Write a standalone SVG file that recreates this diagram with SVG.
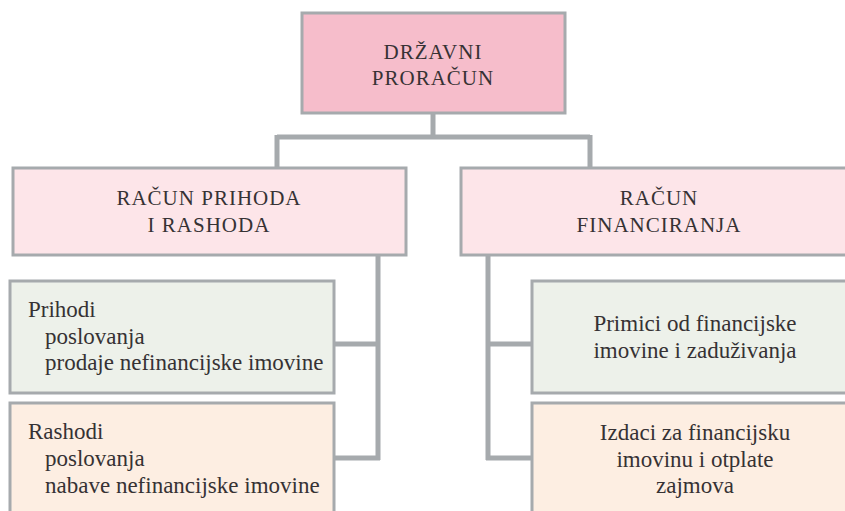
<svg xmlns="http://www.w3.org/2000/svg" width="845" height="511" viewBox="0 0 845 511">
<style>
.box{stroke:#a6aaad;stroke-width:3}
.top{fill:#f6bdcb}
.mid{fill:#fde5e9}
.grn{fill:#edf1ea}
.org{fill:#fdeee2}
.conn{fill:none;stroke:#a6aaad;stroke-width:5}
text{font-family:"Liberation Serif","Times New Roman",serif;fill:#363234}
.cap{font-size:21px;letter-spacing:1px;text-anchor:middle}
.body{font-size:23px}
.c{text-anchor:middle}
</style>
<rect width="845" height="511" fill="#ffffff"/>
<g id="connectors">
<path class="conn" d="M433 113 V137 M277 137 H590 M277 135 V168 M590 135 V168"/>
<path class="conn" d="M378 255 V460 M334 344 H378 M334 458 H380"/>
<path class="conn" d="M488 255 V460 M486 344 H532 M486 458 H532"/>
</g>
<g id="n-drzavni">
<rect class="box top" x="302" y="13" width="263" height="100"/>
<text class="cap" x="433" y="59">DRŽAVNI</text>
<text class="cap" x="433" y="85">PRORAČUN</text>
</g>
<g id="n-prihodi-rashodi">
<rect class="box mid" x="13" y="168" width="393" height="87"/>
<text class="cap" x="209" y="205">RAČUN PRIHODA</text>
<text class="cap" x="209" y="232">I RASHODA</text>
</g>
<g id="n-financiranja">
<rect class="box mid" x="461" y="168" width="400" height="87"/>
<text class="cap" x="659" y="205">RAČUN</text>
<text class="cap" x="659" y="232">FINANCIRANJA</text>
</g>
<g id="n-prihodi">
<rect class="box grn" x="10" y="281" width="324" height="112"/>
<text class="body" x="28" y="317">Prihodi</text>
<text class="body" x="45" y="344">poslovanja</text>
<text class="body" x="45" y="370">prodaje nefinancijske imovine</text>
</g>
<g id="n-rashodi">
<rect class="box org" x="10" y="403" width="324" height="120"/>
<text class="body" x="28" y="439">Rashodi</text>
<text class="body" x="45" y="466">poslovanja</text>
<text class="body" x="45" y="493">nabave nefinancijske imovine</text>
</g>
<g id="n-primici">
<rect class="box grn" x="532" y="281" width="330" height="112"/>
<text class="body c" x="695" y="331">Primici od financijske</text>
<text class="body c" x="695" y="358">imovine i zaduživanja</text>
</g>
<g id="n-izdaci">
<rect class="box org" x="532" y="403" width="330" height="120"/>
<text class="body c" x="695" y="440">Izdaci za financijsku</text>
<text class="body c" x="695" y="467">imovinu i otplate</text>
<text class="body c" x="695" y="493">zajmova</text>
</g>
</svg>
